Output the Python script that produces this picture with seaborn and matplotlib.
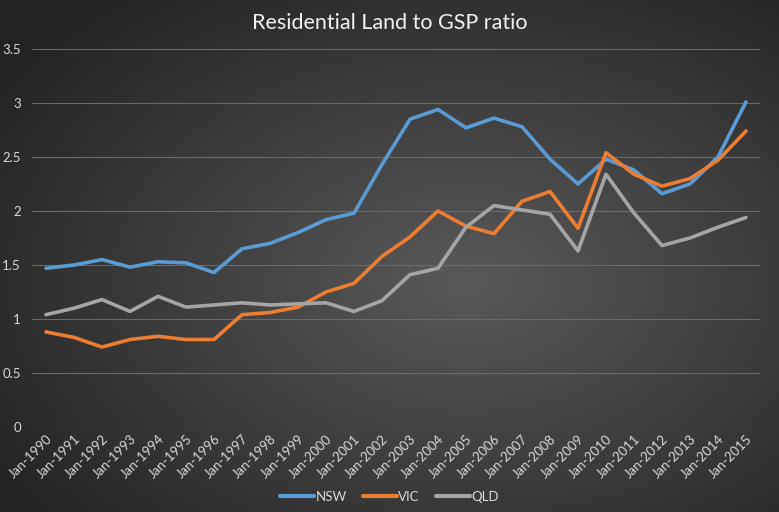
import numpy as np
import pandas as pd
import matplotlib
matplotlib.use("Agg")
import matplotlib.pyplot as plt
import seaborn as sns

# data
years = [f"Jan-{y}" for y in range(1990, 2016)]
nsw = [1.47, 1.50, 1.55, 1.48, 1.53, 1.52, 1.43, 1.65, 1.70, 1.80, 1.92, 1.98, 2.43,
       2.85, 2.94, 2.77, 2.86, 2.78, 2.48, 2.25, 2.48, 2.38, 2.16, 2.25, 2.50, 3.01]
vic = [0.88, 0.83, 0.74, 0.81, 0.84, 0.81, 0.81, 1.04, 1.06, 1.11, 1.25, 1.33, 1.58,
       1.76, 2.00, 1.86, 1.79, 2.09, 2.18, 1.84, 2.54, 2.34, 2.23, 2.30, 2.47, 2.74]
qld = [1.04, 1.10, 1.18, 1.07, 1.21, 1.11, 1.13, 1.15, 1.13, 1.14, 1.15, 1.07, 1.17,
       1.41, 1.47, 1.85, 2.05, 2.01, 1.97, 1.63, 2.34, 1.98, 1.68, 1.75, 1.85, 1.94]
states = ["NSW", "VIC", "QLD"]
colors = ["#5B9BD5", "#ED7D31", "#A5A5A5"]

df = pd.DataFrame({"idx": list(range(len(years))) * 3,
                   "ratio": nsw + vic + qld,
                   "state": np.repeat(states, len(years))})

sns.set_style("dark")
plt.rcParams["font.family"] = ["Lato", "DejaVu Sans"]
txt = "#d9d9d9"

fig = plt.figure(figsize=(7.79, 5.12), dpi=100)

# radial dark background like the Excel chart style
bg = fig.add_axes([0, 0, 1, 1], zorder=-10)
gx, gy = np.meshgrid(np.linspace(0, 1, 400), np.linspace(0, 1, 300))
r = np.sqrt(((gx - 0.6) / 0.75) ** 2 + ((gy - 0.55) / 0.75) ** 2)
shade = np.clip(0.35 - 0.22 * r, 0.14, 0.35)
bg.imshow(np.dstack([shade] * 3), extent=[0, 1, 0, 1], aspect="auto")
bg.axis("off")

ax = fig.add_axes([32 / 779, 85 / 512, 728 / 779, 378 / 512])
ax.patch.set_alpha(0)
sns.lineplot(data=df, x="idx", y="ratio", hue="state", palette=colors,
             linewidth=2.6, ax=ax, legend=False)

ax.set_xlim(-0.5, len(years) - 0.5)
ax.set_ylim(0, 3.5)
ax.set_yticks(np.arange(0, 3.51, 0.5))
ax.set_yticklabels([f"{v:g}" for v in np.arange(0, 3.51, 0.5)])
ax.set_xticks(range(len(years)))
ax.set_xticklabels(years, rotation=45, ha="right", rotation_mode="anchor")
ax.tick_params(axis="both", colors=txt, labelsize=9.5, length=0)
ax.tick_params(axis="y", pad=8)
ax.tick_params(axis="x", pad=4)
ax.grid(axis="y", color="#6a6a6a", linewidth=0.8)
ax.grid(axis="x", visible=False)
ax.set_xlabel("")
ax.set_ylabel("")
for s in ax.spines.values():
    s.set_visible(False)
ax.axhline(0, color="#6a6a6a", linewidth=0.8)

fig.text(0.5, 0.955, "Residential Land to GSP ratio", ha="center", va="center",
         color="#f2f2f2", fontsize=15.5)

handles = [plt.Line2D([0], [0], color=c, lw=3, solid_capstyle="round") for c in colors]
leg = fig.legend(handles, states, loc="center", bbox_to_anchor=(0.5, 0.03), ncol=3,
                 frameon=False, fontsize=9.5, handlelength=2.6, handletextpad=0.1,
                 columnspacing=1.2)
for t in leg.get_texts():
    t.set_color(txt)

fig.savefig("out.png", dpi=100)
